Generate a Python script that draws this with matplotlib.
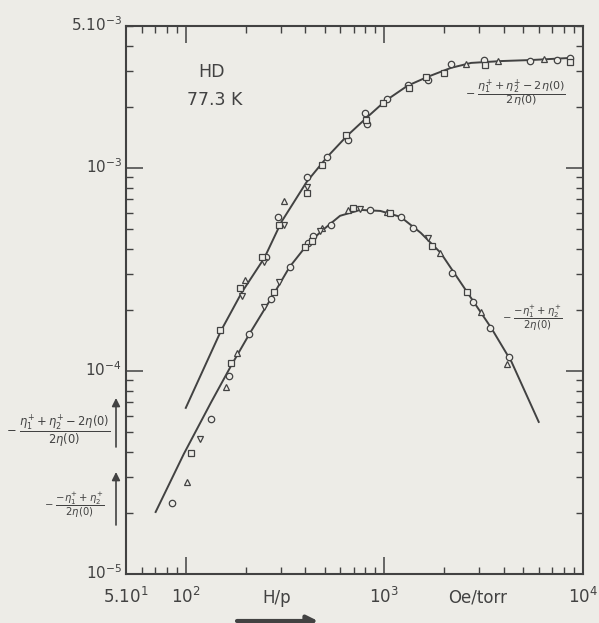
import numpy as np
import matplotlib.pyplot as plt
import matplotlib.transforms as mtransforms
from matplotlib.ticker import LogLocator, NullFormatter, FixedLocator

# HD at 77.3 K, field effect on viscosity vs H/p (Oe/torr)
# upper curve: -(eta1+ + eta2+ - 2 eta(0)) / 2 eta(0)
upper_line_x = [100, 151, 192, 249, 303, 406, 514, 649, 810, 1012, 1308,
                1652, 2163, 2734, 3882, 5508, 8593]
upper_line_y = [6.58e-5, 1.59e-4, 2.45e-4, 3.61e-4, 5.42e-4, 8.53e-4, 1.13e-3,
                1.44e-3, 1.76e-3, 2.14e-3, 2.54e-3, 2.81e-3, 3.11e-3, 3.29e-3,
                3.36e-3, 3.40e-3, 3.48e-3]
upper_x = [149, 192, 188, 199, 249, 243, 252, 293, 311, 290, 311, 406, 406, 406,
           484, 514, 641, 656, 801, 811, 820, 988, 1036, 1309, 1324, 1615, 1653,
           1992, 2163, 2578, 3182, 3219, 3747, 5383, 6340, 7379, 8590, 8590]
upper_y = [1.59e-4, 2.34e-4, 2.56e-4, 2.81e-4, 3.44e-4, 3.65e-4, 3.65e-4,
           5.24e-4, 5.24e-4, 5.74e-4, 6.87e-4, 7.53e-4, 8.06e-4, 9.03e-4,
           1.03e-3, 1.13e-3, 1.46e-3, 1.37e-3, 1.87e-3, 1.72e-3, 1.65e-3,
           2.09e-3, 2.19e-3, 2.56e-3, 2.48e-3, 2.81e-3, 2.71e-3, 2.94e-3,
           3.25e-3, 3.25e-3, 3.40e-3, 3.21e-3, 3.37e-3, 3.37e-3, 3.44e-3,
           3.40e-3, 3.48e-3, 3.33e-3]
upper_sym = ['s', 'v', 's', '^', 'v', 's', 'o', 's', 'v', 'o',
             '^', 's', 'v', 'o', 's', 'o', 's', 'o', 'o', 's',
             'o', 's', 'o', 'o', 's', 's', 'o', 's', 'o', '^',
             'o', 's', '^', 'o', '^', 'o', 'o', 's']

# lower curve: -(-eta1+ + eta2+) / 2 eta(0)
lower_line_x = [70.5, 97.7, 134, 169, 209, 270, 333, 411, 484, 598, 755, 954,
                1206, 1524, 1923, 2606, 3450, 4364, 5985]
lower_line_y = [2.02e-5, 3.90e-5, 7.0e-5, 1.06e-4, 1.52e-4, 2.29e-4, 3.25e-4,
                4.22e-4, 4.90e-4, 5.81e-4, 6.21e-4, 6.14e-4, 5.74e-4, 4.79e-4,
                3.81e-4, 2.45e-4, 1.63e-4, 1.11e-4, 5.61e-5]
lower_x = [84.9, 101, 106, 118, 134, 160, 165, 169, 181, 209, 249, 270, 277,
           293, 333, 397, 411, 431, 436, 473, 484, 538, 656, 696, 755, 849,
           1036, 1073, 1206, 1388, 1653, 1733, 1901, 2188, 2606, 2797, 3071,
           3412, 4259, 4162]
lower_y = [2.24e-5, 2.84e-5, 3.94e-5, 4.62e-5, 5.80e-5, 8.34e-5, 9.45e-5,
           1.09e-4, 1.23e-4, 1.52e-4, 2.07e-4, 2.26e-4, 2.45e-4, 2.74e-4,
           3.25e-4, 4.08e-4, 4.27e-4, 4.37e-4, 4.62e-4, 4.90e-4, 5.06e-4,
           5.24e-4, 6.21e-4, 6.35e-4, 6.28e-4, 6.21e-4, 6.07e-4, 6.00e-4,
           5.74e-4, 5.06e-4, 4.52e-4, 4.13e-4, 3.81e-4, 3.04e-4, 2.45e-4,
           2.19e-4, 1.95e-4, 1.63e-4, 1.17e-4, 1.08e-4]
lower_sym = ['o', '^', 's', 'v', 'o', '^', 'o', 's', '^', 'o',
             'v', 'o', 's', 'v', 'o', 's', 'o', 's', 'o', 'v',
             '^', 'o', '^', 's', 'v', 'o', '^', 's', 'o', 'o',
             'v', 's', '^', 'o', 's', 'o', '^', 'o', 'o', '^']

x_ticks = [50, 100, 1000, 10000]
x_ticklabels = [r'5.10$^1$', r'10$^2$', r'10$^3$', r'10$^4$']
y_ticks = [5e-3, 1e-3, 1e-4, 1e-5]
y_ticklabels = [r'5.10$^{-3}$', r'10$^{-3}$', r'10$^{-4}$', r'10$^{-5}$']

bg = '#edece7'
ink = '#424242'
plt.rcParams['mathtext.fontset'] = 'dejavusans'
plt.rcParams['font.family'] = 'DejaVu Sans'

fig = plt.figure(figsize=(5.99, 6.23), dpi=100, facecolor=bg)
ax = fig.add_axes([126 / 599, 49 / 623, 457 / 599, 548 / 623], facecolor=bg)
ax.set_xscale('log')
ax.set_yscale('log')
ax.set_xlim(50, 1e4)
ax.set_ylim(1e-5, 5e-3)

ax.plot(upper_line_x, upper_line_y, color=ink, lw=1.4, zorder=2)
ax.plot(lower_line_x, lower_line_y, color=ink, lw=1.4, zorder=2)

msize = {'o': 4.6, '^': 5.0, 'v': 5.0, 's': 4.2}
for xs, ys, syms in [(upper_x, upper_y, upper_sym), (lower_x, lower_y, lower_sym)]:
    xs = np.array(xs)
    ys = np.array(ys)
    syms = np.array(syms)
    for m in ['o', '^', 'v', 's']:
        sel = syms == m
        ax.plot(xs[sel], ys[sel], ls='none', marker=m, ms=msize[m], mfc=bg,
                mec=ink, mew=0.9, zorder=3)

for s in ax.spines.values():
    s.set_linewidth(1.5)
    s.set_color(ink)

ax.xaxis.set_major_locator(FixedLocator(x_ticks))
ax.xaxis.set_minor_locator(LogLocator(base=10, subs=np.arange(2, 10), numticks=20))
ax.yaxis.set_major_locator(FixedLocator([1e-3, 1e-4, 1e-5]))
ax.yaxis.set_minor_locator(LogLocator(base=10, subs=np.arange(2, 10), numticks=20))
ax.xaxis.set_minor_formatter(NullFormatter())
ax.yaxis.set_minor_formatter(NullFormatter())
ax.tick_params(which='major', direction='in', length=12, width=1.1, color=ink,
               top=True, right=True, labelbottom=False, labelleft=False)
ax.tick_params(which='minor', direction='in', length=5, width=1.0, color=ink,
               top=True, right=True)

# tick labels set by hand (scanned layout)
tx = mtransforms.offset_copy(ax.get_xaxis_transform(), fig=fig, x=0, y=-29, units='dots')
for xv, lab in zip(x_ticks, x_ticklabels):
    ax.text(xv, 0, lab, transform=tx, ha='center', va='baseline', fontsize=12,
            color=ink, clip_on=False)
ty = mtransforms.offset_copy(ax.get_yaxis_transform(), fig=fig, x=-4, y=-5, units='dots')
for yv, lab in zip(y_ticks, y_ticklabels):
    ax.text(0, yv, lab, transform=ty, ha='right', va='baseline', fontsize=11,
            color=ink, clip_on=False)

ax.text(288, 0, 'H/p', transform=tx, ha='center', va='baseline', fontsize=12, color=ink)
ax.text(2960, 0, 'Oe/torr', transform=tx, ha='center', va='baseline', fontsize=12,
        color=ink)

fig.text(212 / 599, 1 - 72 / 623, 'HD', ha='center', va='center', fontsize=12.5, color=ink)
fig.text(215 / 599, 1 - 100 / 623, '77.3 K', ha='center', va='center', fontsize=12.5,
         color=ink)

lab_up = r'$-\ \dfrac{\eta_1^{+}+\eta_2^{+}-2\eta(0)}{2\eta(0)}$'
lab_lo = r'$-\ \dfrac{-\eta_1^{+}+\eta_2^{+}}{2\eta(0)}$'
fig.text(515 / 599, 1 - 93 / 623, lab_up, ha='center', va='center', fontsize=8, color=ink)
fig.text(532 / 599, 1 - 318 / 623, lab_lo, ha='center', va='center', fontsize=7.2, color=ink)
fig.text(58 / 599, 1 - 431 / 623, lab_up, ha='center', va='center', fontsize=8.3, color=ink)
fig.text(74 / 599, 1 - 505 / 623, lab_lo, ha='center', va='center', fontsize=7.2, color=ink)

arrow = dict(arrowstyle='-|>', lw=1.2, color=ink, mutation_scale=12, shrinkA=0, shrinkB=0)
ax.annotate('', xy=(116, 623 - 398), xytext=(116, 623 - 447), xycoords='figure pixels',
            textcoords='figure pixels', arrowprops=arrow)
ax.annotate('', xy=(116, 623 - 472), xytext=(116, 623 - 525), xycoords='figure pixels',
            textcoords='figure pixels', arrowprops=arrow)
ax.annotate('', xy=(318, 2), xytext=(237, 2), xycoords='figure pixels',
            textcoords='figure pixels',
            arrowprops=dict(arrowstyle='-|>', lw=3, color=ink, mutation_scale=16,
                            shrinkA=0, shrinkB=0))

plt.savefig('out.png', dpi=100, facecolor=bg)
plt.close()
